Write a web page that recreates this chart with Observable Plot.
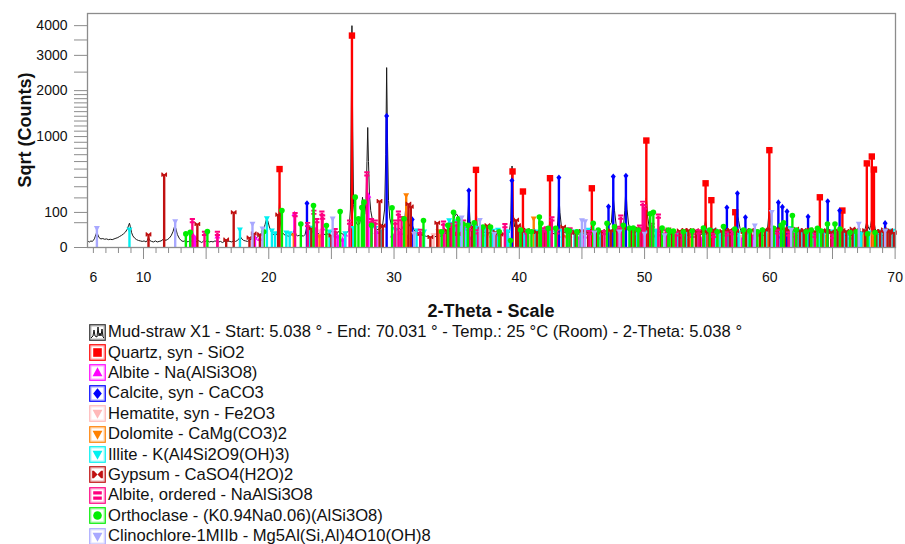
<!DOCTYPE html>
<html><head><meta charset="utf-8">
<script src="https://cdn.jsdelivr.net/npm/d3@7"></script>
<script src="https://cdn.jsdelivr.net/npm/@observablehq/plot@0.6"></script>
<style>
body{margin:0;background:#fff;font-family:"Liberation Sans",Arial,sans-serif;}
#legend{padding-left:89px;margin-top:2px;}
.row{height:20.4px;display:flex;align-items:center;font-size:16.6px;color:#111;white-space:nowrap;}
.row svg{margin-right:2px;flex:none;}
</style></head><body><div id="chart"></div><div id="legend"></div>
<script>
// ---------- DATA ----------
const patternTitle = "Mud-straw X1 - Start: 5.038 ° - End: 70.031 ° - Temp.: 25 °C (Room) - 2-Theta: 5.038 °";
const pattern = [[5.53,2],[5.6,3],[5.7,2.5],[5.8,3.5],[5.9,3],[6.0,4],[6.1,7],[6.2,14],[6.28,19],[6.36,13],[6.45,8],[6.6,6],[6.75,6.5],[6.9,5.5],[7.05,6],[7.2,5],[7.35,5.5],[7.5,5],[7.65,6],[7.8,7],[7.95,8],[8.1,10],[8.25,12],[8.4,15],[8.55,19],[8.7,27],[8.8,38],[8.88,48],[8.95,35],[9.05,18],[9.15,11],[9.3,7],[9.45,5],[9.6,4],[9.75,3.5],[9.9,3],[10.05,3.5],[10.2,2.5],[10.3,4],[10.4,8],[10.5,4],[10.65,3],[10.8,2.5],[10.95,3.5],[11.1,2.5],[11.25,3],[11.4,3.5],[11.55,5],[11.65,7],[11.75,4],[11.9,5],[12.05,7],[12.2,11],[12.35,20],[12.48,36],[12.58,30],[12.7,14],[12.85,7],[13.0,4],[13.15,3],[13.3,3.5],[13.45,2.5],[13.6,3],[13.75,4],[13.9,3],[14.05,3.5],[14.2,2.5],[14.35,4],[14.5,3],[14.65,2],[14.8,3.5],[14.95,3],[15.1,4],[15.25,2.5],[15.4,3],[15.55,2.5],[15.7,3.5],[15.85,3],[16.0,2.5],[16.15,3],[16.3,2],[16.45,3],[16.6,2.5],[16.75,3.5],[16.9,3],[17.05,2.5],[17.2,4],[17.35,3],[17.5,4],[17.65,7],[17.75,9],[17.85,6],[18.0,4],[18.15,3.5],[18.3,3],[18.45,4],[18.6,6],[18.7,9],[18.8,6],[18.95,7],[19.1,9],[19.25,12],[19.4,16],[19.55,24],[19.7,42],[19.82,66],[19.92,58],[20.05,34],[20.2,20],[20.35,14],[20.5,12],[20.65,14],[20.78,40],[20.86,170],[20.94,45],[21.05,20],[21.2,14],[21.35,12],[21.5,11],[21.65,10],[21.8,12],[21.95,18],[22.04,26],[22.15,14],[22.3,11],[22.45,12],[22.6,13],[22.75,10],[22.9,14],[23.05,36],[23.15,16],[23.3,13],[23.45,16],[23.57,30],[23.7,18],[23.85,14],[24.0,16],[24.2,24],[24.35,16],[24.5,13],[24.65,15],[24.8,14],[24.95,18],[25.1,24],[25.25,16],[25.4,14],[25.55,20],[25.65,22],[25.8,16],[25.95,14],[26.1,16],[26.25,18],[26.4,24],[26.52,120],[26.58,1200],[26.64,4000],[26.7,1100],[26.77,150],[26.88,70],[27.0,48],[27.12,40],[27.25,45],[27.38,80],[27.48,205],[27.56,130],[27.66,90],[27.76,160],[27.84,600],[27.9,1170],[27.96,600],[28.04,220],[28.14,110],[28.25,70],[28.38,45],[28.5,32],[28.65,26],[28.8,28],[28.95,30],[29.1,45],[29.25,120],[29.34,700],[29.41,2630],[29.48,900],[29.56,180],[29.66,70],[29.8,40],[29.95,30],[30.1,27],[30.25,25],[30.4,30],[30.55,26],[30.7,32],[30.85,55],[30.95,150],[31.05,70],[31.18,45],[31.3,35],[31.45,42],[31.58,26],[31.7,20],[31.85,16],[32.0,14],[32.15,13],[32.3,12],[32.45,11],[32.6,10],[32.75,11],[32.9,9],[33.05,10],[33.2,9],[33.35,10],[33.5,12],[33.65,10],[33.8,11],[33.95,13],[34.1,16],[34.25,20],[34.4,26],[34.55,34],[34.7,55],[34.85,80],[34.98,92],[35.1,80],[35.25,55],[35.4,38],[35.55,32],[35.7,30],[35.85,40],[35.97,190],[36.07,55],[36.2,35],[36.35,28],[36.47,40],[36.55,125],[36.63,40],[36.8,26],[36.95,22],[37.1,20],[37.25,18],[37.4,19],[37.55,17],[37.7,18],[37.85,16],[38.0,15],[38.15,14],[38.3,15],[38.45,14],[38.6,13],[38.75,15],[38.9,16],[39.05,14],[39.2,18],[39.32,60],[39.42,540],[39.52,90],[39.62,35],[39.75,30],[39.9,26],[40.05,20],[40.2,24],[40.29,60],[40.38,22],[40.5,17],[40.65,15],[40.8,16],[40.95,18],[41.1,24],[41.2,30],[41.3,20],[41.45,17],[41.6,18],[41.75,16],[41.9,15],[42.05,16],[42.2,15],[42.35,20],[42.45,70],[42.55,20],[42.7,16],[42.85,15],[43.0,18],[43.1,80],[43.16,230],[43.24,100],[43.35,40],[43.5,22],[43.65,18],[43.8,16],[43.95,15],[44.1,14],[44.25,15],[44.4,13],[44.55,14],[44.7,15],[44.85,14],[45.0,16],[45.15,15],[45.3,14],[45.45,15],[45.6,16],[45.79,40],[45.9,17],[46.05,15],[46.2,14],[46.35,15],[46.5,14],[46.65,16],[46.8,15],[46.95,18],[47.1,60],[47.2,40],[47.35,50],[47.5,210],[47.6,110],[47.72,45],[47.85,24],[48.0,20],[48.15,22],[48.3,30],[48.42,110],[48.51,290],[48.6,120],[48.72,45],[48.85,25],[49.0,20],[49.15,18],[49.3,19],[49.45,18],[49.6,20],[49.75,24],[49.9,30],[50.05,60],[50.14,200],[50.24,80],[50.36,35],[50.5,28],[50.65,24],[50.8,22],[50.95,20],[51.1,22],[51.25,18],[51.4,16],[51.55,15],[51.7,14],[51.85,15],[52.0,14],[52.15,13],[52.3,14],[52.45,13],[52.6,14],[52.75,12],[52.9,13],[53.05,14],[53.2,13],[53.35,12],[53.5,13],[53.65,12],[53.8,13],[53.95,14],[54.1,13],[54.25,12],[54.4,13],[54.55,14],[54.7,18],[54.87,60],[55.0,20],[55.15,15],[55.33,25],[55.45,14],[55.6,13],[55.75,12],[55.9,13],[56.05,12],[56.2,14],[56.35,16],[56.57,40],[56.7,20],[56.85,16],[57.0,15],[57.15,18],[57.3,40],[57.41,95],[57.5,60],[57.62,30],[57.75,20],[57.9,16],[58.05,22],[58.15,16],[58.3,14],[58.45,13],[58.6,12],[58.75,13],[58.9,12],[59.05,13],[59.2,12],[59.35,13],[59.5,12],[59.65,14],[59.8,22],[59.96,125],[60.08,40],[60.2,20],[60.35,16],[60.5,18],[60.68,40],[60.8,22],[60.98,32],[61.1,20],[61.25,18],[61.39,26],[61.5,16],[61.65,14],[61.8,13],[61.95,12],[62.1,13],[62.25,12],[62.4,13],[62.55,12],[62.7,13],[62.85,12],[63.05,16],[63.2,13],[63.35,12],[63.5,11],[63.65,12],[63.8,13],[63.99,28],[64.1,14],[64.25,13],[64.4,15],[64.62,35],[64.75,16],[64.9,13],[65.05,12],[65.2,13],[65.35,14],[65.57,26],[65.7,18],[65.85,16],[66.0,12],[66.15,11],[66.3,12],[66.45,11],[66.6,12],[66.75,11],[66.9,12],[67.05,12],[67.2,13],[67.35,14],[67.5,18],[67.62,30],[67.74,55],[67.85,35],[67.95,26],[68.05,40],[68.14,70],[68.22,50],[68.31,56],[68.4,30],[68.5,18],[68.65,14],[68.8,12],[68.95,11],[69.1,12],[69.2,16],[69.3,11],[69.45,10],[69.6,11],[69.75,10],[69.9,9],[70.03,8]];

const quartz = [[20.86,500],[26.64,3650],[36.54,490],[39.46,470],[40.29,255],[42.45,390],[45.79,285],[50.14,930],[54.87,335],[55.33,182],[57.24,101],[59.96,770],[63.99,205],[65.79,111],[67.74,575],[68.14,673],[68.31,494]];
const albite = [[13.95,12],[14.1,8],[15.9,10],[18.9,8],[19.3,6],[22.05,92],[23.2,18],[23.75,25],[24.3,30],[25.5,10],[25.9,5],[26.1,14],[27.95,220],[28.2,40],[28.6,20],[29.9,12],[30.5,18],[31.0,10],[33.6,15],[34.0,23],[35.2,10],[36.2,8],[36.9,10],[37.8,12],[39.0,12],[40.5,10],[41.8,10],[42.2,8],[43.5,12],[44.0,12],[44.8,8],[45.2,10],[46.3,8],[47.1,10],[48.0,12],[49.6,10],[50.9,12],[51.3,14],[52.7,10],[53.2,8],[54.5,6],[55.9,10],[57.7,8],[58.6,8],[60.9,10],[62.3,8],[63.9,10],[66.4,8],[68.9,8]];
const calcite = [[23.05,159],[29.41,1408],[31.45,64],[35.97,264],[39.41,364],[43.16,398],[47.12,136],[47.5,409],[48.51,417],[56.57,130],[57.41,239],[58.05,74],[60.68,165],[61.0,134],[61.37,106],[63.05,77],[64.62,173],[65.57,111],[69.2,48]];
const hematite = [[24.14,20],[33.15,12],[35.61,15],[40.85,8],[49.48,12],[54.09,10],[57.59,8],[62.45,12],[63.99,10],[69.6,8]];
const dolomite = [[22.0,12],[24.05,10],[30.97,220],[33.55,21],[35.3,12],[37.35,10],[41.15,67],[43.8,8],[44.9,14],[49.3,8],[50.5,18],[51.05,22],[52.4,12],[53.6,14],[55.9,15],[56.9,12],[58.9,10],[59.85,14],[60.2,16],[61.9,14],[62.8,12],[63.4,8],[64.45,10],[65.1,12],[66.9,10],[67.4,16],[68.2,15],[69.3,12]];
const illite = [[8.88,26],[17.7,26],[19.85,68],[20.25,23],[20.5,16],[21.4,18],[21.67,16],[23.3,31],[24.85,20],[26.1,16],[26.75,30],[28.5,30],[29.0,20],[30.1,25],[31.8,23],[32.4,20],[34.4,59],[34.6,45],[34.9,30],[35.0,55],[35.3,50],[35.6,40],[35.8,25],[36.3,18],[36.4,35],[36.6,30],[37.0,20],[37.3,28],[37.9,22],[38.3,25],[38.9,20],[39.1,20],[40.0,15],[40.4,18],[41.3,20],[41.9,23],[42.4,18],[42.9,18],[43.4,22],[44.4,20],[44.9,20],[45.5,25],[46.1,18],[46.5,18],[47.3,20],[47.8,20],[48.8,25],[49.4,20],[50.0,18],[50.9,22],[51.8,20],[52.2,20],[52.6,15],[53.3,18],[53.8,18],[54.3,15],[54.8,22],[55.6,23],[56.0,18],[56.7,20],[57.0,15],[57.5,18],[58.3,20],[58.8,20],[59.3,18],[59.7,22],[60.4,15],[60.9,20],[61.6,30],[62.0,20],[62.3,22],[62.6,18],[63.0,18],[63.5,16],[63.9,20],[64.3,20],[65.0,20],[65.3,15],[65.9,18],[66.2,18],[66.7,15],[67.0,20],[67.3,16],[67.9,18],[68.6,18],[68.9,20],[69.1,23],[69.5,22],[69.8,22]];
const gypsum = [[10.4,14],[11.65,432],[14.3,45],[16.6,5],[17.2,101],[18.46,8],[18.8,16],[19.3,14],[20.75,88],[23.4,30],[25.0,12],[28.84,175],[29.1,39],[31.15,155],[31.34,136],[32.1,15],[32.9,9],[33.45,50],[34.2,25],[34.5,30],[35.1,15],[36.2,35],[36.9,28],[37.45,40],[38.1,20],[38.5,14],[39.75,62],[39.9,40],[40.2,22],[40.6,25],[41.4,20],[42.0,18],[43.5,35],[44.1,20],[44.5,18],[45.0,22],[45.5,20],[46.2,20],[46.6,22],[47.3,24],[47.8,25],[48.3,30],[48.9,28],[49.2,28],[49.7,30],[50.3,32],[51.3,30],[51.9,26],[52.2,22],[52.8,23],[53.2,25],[53.5,25],[54.1,24],[54.4,20],[54.7,22],[55.1,18],[55.5,26],[56.2,22],[56.5,24],[56.8,25],[57.3,22],[57.9,20],[58.1,24],[58.5,25],[59.2,22],[59.6,26],[60.0,28],[60.3,25],[60.6,30],[61.2,30],[61.5,26],[62.1,28],[62.4,24],[62.7,25],[63.2,26],[63.6,22],[64.2,24],[64.6,22],[64.9,20],[65.4,25],[65.8,24],[66.1,22],[66.6,28],[66.9,26],[67.0,25],[67.6,24],[68.5,22],[68.8,22],[69.1,26],[69.4,20],[69.6,24],[69.9,18]];
const albiteOrdered = [[13.9,59],[14.87,16],[15.9,16],[22.1,88],[23.1,43],[23.6,101],[23.84,59],[24.24,96],[24.3,75],[25.3,23],[26.45,52],[27.83,440],[28.2,59],[28.5,52],[30.1,52],[30.35,96],[30.6,68],[32.1,21],[33.95,48],[34.6,40],[35.0,45],[35.55,52],[36.0,30],[36.7,20],[37.0,25],[38.85,39],[40.6,20],[41.9,25],[42.15,28],[42.6,67],[43.0,20],[44.05,25],[45.6,18],[46.8,18],[47.9,30],[48.1,75],[49.6,34],[49.85,159],[50.0,132],[50.6,40],[51.1,80],[51.7,20],[52.5,15],[53.0,15],[53.8,12],[54.3,20],[55.5,12],[56.5,15],[57.0,18],[58.9,14],[60.6,20],[61.5,15],[62.0,12],[63.6,12],[65.0,10]];
const orthoclase = [[13.38,15],[13.73,19],[15.1,21],[19.6,20],[21.05,111],[22.56,45],[23.57,143],[24.6,39],[25.7,105],[26.9,206],[27.16,67],[27.43,130],[27.6,167],[28.2,40],[29.84,128],[30.8,67],[32.35,59],[33.8,20],[34.3,40],[34.75,101],[35.15,67],[35.5,45],[35.9,40],[36.4,50],[37.1,34],[37.7,34],[38.4,20],[39.3,4],[40.1,25],[40.7,22],[40.97,20],[41.6,75],[41.72,48],[42.3,30],[42.9,30],[43.8,25],[44.0,23],[44.6,20],[45.9,48],[46.3,25],[47.0,48],[47.6,35],[48.3,40],[48.8,30],[49.1,31],[49.5,25],[50.45,92],[50.7,101],[51.4,31],[51.9,25],[52.0,21],[52.3,22],[53.1,20],[53.8,22],[54.7,31],[55.2,25],[55.8,20],[56.3,36],[57.2,28],[57.9,25],[58.4,22],[59.0,20],[59.4,25],[60.3,30],[60.9,40],[61.1,50],[61.8,83],[62.1,25],[62.9,20],[63.3,25],[63.8,30],[64.1,22],[64.6,45],[65.2,45],[65.6,28],[66.4,18],[66.9,20],[67.8,15],[68.4,18]];
const clinochlore = [[6.28,30],[12.53,55],[18.7,45],[19.5,29],[25.1,67],[31.6,15],[35.4,72],[36.85,60],[38.0,15],[45.0,59],[45.25,55],[46.0,18],[48.0,20],[50.0,15],[51.6,12],[58.8,39],[60.15,101],[61.7,25],[67.1,45],[69.2,22]];

const xLabelTicks = [6,10,20,30,40,50,60,70];
const yLabelTicks = [0,100,1000,2000,3000,4000];
const yMinorTicks = [50,200,300,400,500,600,700,800,900,1100,1200,1300,1400,1500,1600,1700,1800,1900,2500,3500];

// ---------- SYMBOLS ----------
const sym = f => ({draw(c, size){ const r = Math.sqrt(size/Math.PI); f(c, r); }});
const SQUARE = sym((c,r)=>{c.rect(-r,-r,2*r,2*r);});
const TRI_UP = sym((c,r)=>{c.moveTo(0,-1.2*r);c.lineTo(1.15*r,0.85*r);c.lineTo(-1.15*r,0.85*r);c.closePath();});
const TRI_DOWN = sym((c,r)=>{c.moveTo(0,1.2*r);c.lineTo(1.15*r,-0.85*r);c.lineTo(-1.15*r,-0.85*r);c.closePath();});
const DIAMOND = sym((c,r)=>{c.moveTo(0,-1.25*r);c.lineTo(r,0);c.lineTo(0,1.25*r);c.lineTo(-r,0);c.closePath();});
const BOWTIE = sym((c,r)=>{c.moveTo(-0.85*r,-0.9*r);c.lineTo(0,0);c.lineTo(-0.85*r,0.9*r);c.closePath();c.moveTo(0.85*r,-0.9*r);c.lineTo(0,0);c.lineTo(0.85*r,0.9*r);c.closePath();c.rect(-1.25*r,-0.9*r,0.4*r,1.8*r);c.rect(0.85*r,-0.9*r,0.4*r,1.8*r);});
const EQUALS = sym((c,r)=>{c.rect(-r,-r,2*r,0.75*r);c.rect(-r,0.25*r,2*r,0.75*r);});
const CIRCLE = sym((c,r)=>{c.moveTo(r,0);c.arc(0,0,r,0,2*Math.PI);});

const phases = [
  {name:"Quartz, syn - SiO2", color:"#ff0000", symbol:SQUARE, r:3.2, data:quartz},
  {name:"Albite - Na(AlSi3O8)", color:"#ff00ff", symbol:TRI_UP, r:2.6, data:albite},
  {name:"Calcite, syn - CaCO3", color:"#0000ff", symbol:DIAMOND, r:2.5, data:calcite},
  {name:"Hematite, syn - Fe2O3", color:"#ffb8b8", symbol:TRI_DOWN, r:2.6, data:hematite},
  {name:"Dolomite - CaMg(CO3)2", color:"#ff8000", symbol:TRI_DOWN, r:2.6, data:dolomite},
  {name:"Illite - K(Al4Si2O9(OH)3)", color:"#00f0f0", symbol:TRI_DOWN, r:2.6, data:illite},
  {name:"Gypsum - CaSO4(H2O)2", color:"#c01010", symbol:BOWTIE, r:2.3, data:gypsum},
  {name:"Albite, ordered - NaAlSi3O8", color:"#ff0080", symbol:EQUALS, r:2.6, data:albiteOrdered},
  {name:"Orthoclase - (K0.94Na0.06)(AlSi3O8)", color:"#00ee00", symbol:CIRCLE, r:2.8, data:orthoclase},
  {name:"Clinochlore-1MIIb - Mg5Al(Si,Al)4O10(OH)8", color:"#a8a8ff", symbol:TRI_DOWN, r:2.6, data:clinochlore}
];

// ---------- CHART ----------
const xMinor = d3.range(6, 71).filter(v => v % 5 !== 0);
const xMajor = d3.range(10, 71, 5);
const marks = [
  Plot.line(pattern, {x: d=>d[0], y: d=>d[1], stroke: "#1a1a1a", strokeWidth: 1})
];
for (const p of phases) {
  marks.push(Plot.ruleX(p.data, {x: d=>d[0], y1: 0, y2: d=>d[1], stroke: p.color, strokeWidth: 2.4}));
  marks.push(Plot.dot(p.data, {x: d=>d[0], y: d=>d[1], symbol: p.symbol, fill: p.color, stroke: "none", r: p.r}));
}
marks.push(
  Plot.frame({stroke: "#8c8c8c", strokeWidth: 1.3}),
  Plot.axisY({ticks: yMinorTicks, tickSize: 13, text: null, stroke: "#8c8c8c", label: null}),
  Plot.axisY({ticks: yLabelTicks, tickSize: 13, tickPadding: 7, fontSize: 14, fill: "#111", stroke: "#8c8c8c", label: null, tickFormat: d => String(d)}),
  Plot.axisX({ticks: xMinor, tickSize: 6, text: null, stroke: "#8c8c8c", label: null}),
  Plot.axisX({ticks: xMajor, tickSize: 12, text: null, stroke: "#8c8c8c", label: null}),
  Plot.axisX({ticks: xLabelTicks, tickSize: 0, tickPadding: 25, fontSize: 14, fill: "#111", label: null, tickFormat: d => String(d)})
);

const chart = Plot.plot({
  width: 905, height: 320,
  marginLeft: 87, marginRight: 10, marginTop: 13, marginBottom: 73,
  style: {fontFamily: '"Liberation Sans", Arial, sans-serif', background: "white", color: "#111"},
  x: {domain: [5.53, 70.03]},
  y: {type: "sqrt", domain: [0, 4450]},
  marks
});
const svg = d3.select(chart);
svg.append("text").attr("transform", "translate(25,130) rotate(-90)")
  .attr("text-anchor", "middle").attr("dominant-baseline", "central")
  .attr("font-size", 18).attr("font-weight", "bold").attr("fill", "#111").text("Sqrt (Counts)");
svg.append("text").attr("x", 491).attr("y", 311)
  .attr("text-anchor", "middle").attr("dominant-baseline", "central")
  .attr("font-size", 18).attr("font-weight", "bold").attr("fill", "#111").text("2-Theta - Scale");
document.getElementById("chart").appendChild(chart);

// ---------- LEGEND ----------
const legend = d3.select("#legend");
function icon(row, border) {
  const s = row.append("svg").attr("width", 17).attr("height", 17);
  s.append("rect").attr("x", 0.75).attr("y", 0.75).attr("width", 15.5).attr("height", 15.5)
    .attr("fill", "white").attr("stroke", border).attr("stroke-width", 1.2);
  s.append("rect").attr("x", 2).attr("y", 2).attr("width", 13).attr("height", 13)
    .attr("fill", "none").attr("stroke", border).attr("stroke-opacity", 0.35).attr("stroke-width", 1);
  return s;
}
{
  const row = legend.append("div").attr("class", "row");
  const s = icon(row, "#333");
  s.append("polyline").attr("points", "2,14 4,12 5,6 6,12 8,13 9,3 10,12 11,9 12,12 13,5 14,13 15,14")
    .attr("fill", "none").attr("stroke", "#111").attr("stroke-width", 1);
  row.append("span").text(patternTitle);
}
for (const p of phases) {
  const row = legend.append("div").attr("class", "row");
  const s = icon(row, p.color);
  const path = d3.path();
  p.symbol.draw(path, 4.3 * 4.3 * Math.PI);
  s.append("path").attr("transform", "translate(8.5,8.5)").attr("d", path.toString()).attr("fill", p.color);
  row.append("span").text(p.name);
}
</script></body></html>
